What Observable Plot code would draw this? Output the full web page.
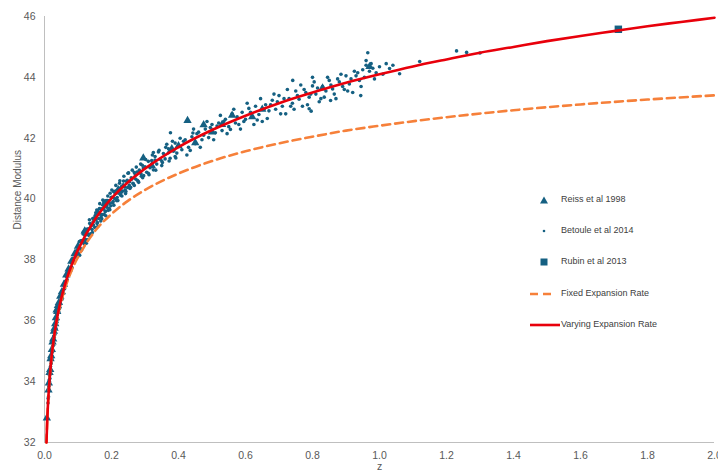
<!DOCTYPE html>
<html><head><meta charset="utf-8">
<script src="https://cdn.jsdelivr.net/npm/d3@7"></script>
<script src="https://cdn.jsdelivr.net/npm/@observablehq/plot@0.6"></script>
<style>
body{margin:0;background:#fff;}
#wrap{position:relative;width:718px;height:470px;overflow:hidden;}
#legend{position:absolute;left:526px;top:190px;font-family:"Liberation Sans Narrow","Liberation Sans",sans-serif;font-size:9px;color:#404040;}
.item{position:absolute;left:0;height:20px;width:190px;}
.item svg{position:absolute;left:0;top:0;}
.item span{position:absolute;left:35px;top:4px;white-space:nowrap;}
</style>
</head><body>
<div id="wrap"><div id="legend"></div></div>
<script>
// ---- data ----
const reiss = [
 [0.007,32.8],[0.012,33.72],[0.013,33.95],[0.015,34.3],[0.017,34.4],[0.018,34.75],[0.020,34.85],
 [0.022,35.05],[0.024,35.3],[0.026,35.4],[0.028,35.65],[0.030,35.75],[0.032,35.9],[0.034,36.1],
 [0.036,36.35],[0.038,36.3],[0.040,36.5],[0.043,36.6],[0.047,36.8],[0.052,36.95],[0.058,37.2],
 [0.065,37.5],[0.072,37.7],[0.080,37.95],[0.090,38.2],[0.10,38.45],[0.12,38.95],
 [0.16,39.55],[0.18,39.85],[0.22,40.3],[0.295,41.35],[0.32,41.1],[0.38,41.65],[0.40,41.75],
 [0.427,42.58],[0.45,41.85],[0.475,42.44],[0.50,42.2],[0.53,42.45],[0.56,42.75],[0.62,42.7],
 [0.65,42.95],[0.83,43.65],[0.97,44.35]
];
const betoule = [
 [0.0105,33.3],[0.011,33.45],[0.012,33.5],[0.013,33.85],[0.0135,33.7],[0.014,34.05],[0.015,34.0],
 [0.015,34.2],[0.016,34.25],[0.016,34.1],[0.017,34.35],[0.018,34.5],[0.018,34.35],[0.019,34.7],
 [0.020,34.6],[0.021,34.85],[0.022,34.95],[0.022,34.75],[0.023,35.05],[0.024,35.15],[0.025,35.0],
 [0.025,35.3],[0.026,35.35],[0.027,35.2],[0.028,35.5],[0.029,35.45],[0.030,35.7],[0.031,35.55],
 [0.032,35.8],[0.033,35.9],[0.034,35.75],[0.035,36.0],[0.036,36.1],[0.037,35.95],[0.038,36.2],
 [0.039,36.05],[0.040,36.35],[0.042,36.3],[0.043,36.5],[0.045,36.4],[0.046,36.6],[0.048,36.55],
 [0.050,36.85],[0.052,36.7],[0.054,37.0],[0.056,36.9],[0.058,37.15],[0.060,37.05],[0.062,37.3],
 [0.064,37.25],[0.066,37.45],[0.068,37.35],[0.070,37.6],[0.072,37.5],[0.074,37.7],[0.077,37.65],
 [0.080,37.9],[0.082,37.75],[0.085,38.05],[0.088,37.95],[0.090,38.2],[0.093,38.1],[0.095,38.3],
 [0.098,38.2],
 [0.100,38.36],[0.102,38.23],[0.104,38.60],[0.106,38.39],[0.108,38.63],[0.110,38.32],[0.112,38.64],
 [0.114,38.58],[0.116,38.92],[0.118,38.53],[0.120,38.82],[0.122,38.68],[0.124,39.01],[0.126,38.83],
 [0.128,38.66],[0.130,39.02],[0.132,38.84],[0.134,39.32],[0.136,39.04],[0.138,38.86],[0.140,39.13],
 [0.142,39.00],[0.144,39.36],[0.146,39.15],[0.148,39.38],[0.150,39.07],[0.152,39.38],[0.154,39.31],
 [0.156,39.64],[0.158,39.23],[0.160,39.51],[0.162,39.36],[0.164,39.69],[0.166,39.50],[0.168,39.28],
 [0.170,39.68],[0.172,39.49],[0.174,39.97],[0.176,39.67],[0.178,39.49],[0.180,39.75],[0.182,39.61],
 [0.184,39.95],[0.186,39.73],[0.188,39.95],[0.190,39.63],[0.192,39.94],[0.194,39.86],[0.196,40.19],
 [0.198,39.78],[0.200,40.06],[0.203,39.88],[0.206,40.25],[0.209,40.02],[0.212,40.26],[0.215,39.95],
 [0.218,40.26],[0.221,40.19],[0.224,40.52],[0.227,40.13],[0.230,40.41],[0.233,40.26],[0.236,40.59],
 [0.239,40.40],[0.242,40.18],[0.245,40.58],[0.248,40.38],[0.251,40.86],[0.254,40.57],[0.257,40.39],
 [0.260,40.65],[0.264,40.52],[0.268,40.87],[0.272,40.66],[0.276,40.89],[0.280,40.58],[0.284,40.90],
 [0.288,40.83],[0.292,41.11],[0.296,40.77],[0.300,41.06],[0.305,40.88],[0.310,41.24],[0.315,41.03],
 [0.320,41.27],[0.325,40.96],[0.330,41.28],[0.335,41.15],[0.340,41.55],[0.345,41.31],[0.350,41.10],
 [0.355,41.50],[0.360,41.32],[0.365,41.80],[0.370,41.52],[0.375,41.34],[0.380,41.64],[0.385,41.57],
 [0.390,41.84],[0.395,41.51],
 [0.121,38.62],[0.127,38.97],[0.133,38.80],[0.139,39.16],[0.145,39.25],[0.151,39.45],[0.157,39.20],
 [0.163,39.55],[0.169,39.41],[0.175,39.80],[0.181,39.58],[0.187,39.86],[0.193,39.70],[0.199,40.05],
 [0.205,39.92],[0.211,40.18],[0.217,40.05],[0.223,40.35],[0.229,40.22],[0.235,40.47],[0.241,40.30],
 [0.247,40.62],[0.253,40.45],[0.259,40.70],[0.265,40.50],[0.271,40.80],[0.277,40.62],[0.283,40.95],
 [0.289,40.75],[0.295,41.02],
 [0.105,38.15],[0.115,38.85],[0.125,38.55],[0.135,39.20],[0.143,38.90],[0.153,39.55],[0.159,39.10],
 [0.165,39.85],[0.171,39.35],[0.177,39.90],[0.183,39.45],[0.189,40.10],[0.195,39.65],[0.201,40.30],
 [0.207,39.80],[0.213,40.45],[0.219,39.95],[0.225,40.60],[0.231,40.10],[0.237,40.75],[0.243,40.25],
 [0.249,40.85],[0.255,40.35],[0.262,40.95],[0.268,40.45],[0.274,41.05],[0.281,40.55],[0.287,41.15],
 [0.293,40.70],[0.302,41.30],[0.312,40.80],[0.322,41.45],[0.332,40.95],[0.342,41.60],[0.352,41.20],
 [0.362,41.70],[0.372,41.25],[0.382,41.90],[0.392,41.35],
 [0.376,42.18],[0.443,42.17],[0.555,42.29],[0.325,41.53],
 [0.41,41.62],[0.42,41.95],[0.43,41.70],[0.44,42.05],[0.45,41.82],[0.46,42.20],[0.47,41.95],
 [0.48,42.30],[0.49,42.02],[0.50,42.45],[0.51,42.18],[0.52,42.50],[0.53,42.25],[0.54,42.62],
 [0.55,42.38],[0.56,42.80],[0.57,42.50],[0.58,42.45],[0.59,42.85],[0.60,42.62],[0.61,42.98],
 [0.62,42.70],[0.63,43.05],[0.64,42.78],[0.65,42.55],[0.66,43.10],[0.67,42.90],[0.68,43.25],
 [0.69,42.95],[0.70,43.40],[0.71,43.05],[0.72,42.80],[0.73,43.30],[0.74,43.15],[0.75,43.55],
 [0.76,43.28],[0.77,43.05],[0.78,43.50],[0.79,43.35],[0.80,43.72],[0.81,43.45],[0.82,43.20],
 [0.83,43.70],[0.84,43.55],[0.85,43.90],[0.86,43.62],[0.87,43.30],[0.88,43.85],[0.89,43.70],
 [0.90,44.05],[0.91,43.78],[0.92,43.50],[0.93,44.05],[0.94,43.90],[0.95,44.25],[0.96,44.40],
 [0.965,44.81],[0.97,44.20],[0.975,44.45],[0.98,44.30],[0.99,44.15],[1.00,44.35],[1.02,44.45],
 [1.03,44.29],[1.06,44.12],[1.12,44.52],[1.23,44.87],[1.26,44.82],[1.30,44.80],
 [0.31,40.85],[0.33,41.40],[0.35,41.25],[0.37,41.65],[0.39,41.40],[0.415,41.90],[0.435,41.60],
 [0.455,42.15],[0.475,42.10],[0.495,42.35],[0.515,42.40],[0.535,42.55],[0.575,42.70],
 [0.595,42.55],[0.615,42.85],[0.635,42.60],[0.655,42.95],[0.675,43.10],[0.695,43.20],[0.715,43.30],
 [0.735,43.05],[0.755,43.40],[0.775,43.60],[0.795,43.45],[0.815,43.65],[0.835,43.35],[0.855,43.75],
 [0.875,43.95],[0.895,43.60],[0.915,43.95],[0.935,44.15],[0.955,44.00],
 [0.405,42.00],[0.425,41.45],[0.445,42.30],[0.465,41.70],[0.485,42.55],[0.505,41.95],[0.525,42.75],
 [0.545,42.15],[0.565,42.95],[0.585,42.30],[0.605,43.15],[0.625,42.45],[0.645,43.30],[0.665,42.65],
 [0.685,43.45],[0.705,42.80],[0.725,43.60],[0.745,42.95],[0.765,43.75],[0.785,43.10],[0.805,43.85],
 [0.825,43.30],[0.845,44.00],[0.865,43.45],[0.885,44.10],[0.905,43.55],[0.925,44.20],[0.945,43.70],
 [0.96,44.55],[0.985,43.95],[1.01,44.10],[1.04,44.40],
 [0.79,42.97],[0.796,42.89],[0.854,43.24],[0.944,43.4],[0.741,43.9],[0.80,44.0]
];
const rubin = [[1.713,45.58]];
const fixedRate = [
 [0.0059,32.0],[0.008,32.7],[0.01,33.18],[0.015,34.06],[0.02,34.68],[0.03,35.55],[0.04,36.17],
 [0.05,36.64],[0.06,37.03],[0.07,37.35],[0.08,37.63],[0.09,37.88],[0.1,38.09],[0.15,38.94],
 [0.2,39.51],[0.25,39.95],[0.3,40.3],[0.4,40.84],[0.5,41.25],[0.6,41.57],[0.7,41.83],[0.8,42.05],
 [0.9,42.25],[1.0,42.41],[1.2,42.69],[1.4,42.92],[1.6,43.11],[1.8,43.27],[2.0,43.41]
];
const varyingRate = [
 [0.0059,32.0],[0.008,32.69],[0.01,33.18],[0.015,34.05],[0.02,34.70],[0.03,35.59],[0.04,36.23],
 [0.05,36.74],[0.06,37.15],[0.07,37.50],[0.08,37.80],[0.09,38.08],[0.1,38.33],[0.15,39.32],
 [0.2,40.02],[0.25,40.56],[0.3,41.00],[0.4,41.71],[0.5,42.27],[0.6,42.74],[0.7,43.15],[0.8,43.50],
 [0.9,43.82],[1.0,44.10],[1.1,44.36],[1.2,44.59],[1.3,44.81],[1.4,45.00],[1.5,45.19],[1.6,45.36],
 [1.7,45.52],[1.8,45.68],[1.9,45.82],[2.0,45.96]
];
const xTicks = [0,0.2,0.4,0.6,0.8,1.0,1.2,1.4,1.6,1.8,2.0];
const yTicks = [32,34,36,38,40,42,44,46];
const legendLabels = ["Reiss et al 1998","Betoule et al 2014","Rubin et al 2013","Fixed Expansion Rate","Varying Expansion Rate"];

const teal = "#156082", orange = "#f6803a", red = "#e8000b", grey = "#595959";
const font = "'Liberation Sans Narrow','Liberation Sans',sans-serif";

const chart = Plot.plot({
  width: 718, height: 470,
  marginLeft: 44, marginRight: 4, marginTop: 16, marginBottom: 28,
  style: {fontFamily: font, fontSize: "10.5px", color: grey, background: "white", overflow: "visible"},
  x: {domain: [0, 2], ticks: xTicks, tickFormat: d3.format(".1f"), label: null, tickSize: 0, tickPadding: 9},
  y: {domain: [32, 46], ticks: yTicks, label: null, tickSize: 0, tickPadding: 9},
  marks: [
    Plot.ruleX([0], {stroke: "#bfbfbf", strokeWidth: 1}),
    Plot.ruleY([32], {stroke: "#bfbfbf", strokeWidth: 1}),
    Plot.dot(betoule, {x: d => d[0], y: d => d[1], r: 1.8, fill: teal, stroke: "none"}),
    Plot.dot(reiss, {x: d => d[0], y: d => d[1], symbol: "triangle", r: 3.1, fill: teal, stroke: "none"}),
    Plot.dot(rubin, {x: d => d[0], y: d => d[1], symbol: "square", r: 4.2, fill: teal, stroke: "none"}),
    Plot.line(fixedRate, {x: d => d[0], y: d => d[1], stroke: orange, strokeWidth: 2.6, strokeDasharray: "8,5", curve: "monotone-x"}),
    Plot.line(varyingRate, {x: d => d[0], y: d => d[1], stroke: red, strokeWidth: 2.6, curve: "monotone-x"}),
    Plot.text(["Distance Modulus"], {frameAnchor: "left", rotate: -90, dx: -27, fill: grey, fontSize: 10}),
    Plot.text(["z"], {frameAnchor: "bottom", dy: 27, fill: grey, fontSize: 10.5})
  ]
});
document.getElementById("wrap").prepend(chart);

// legend
const leg = document.getElementById("legend");
const keys = [
  `<svg width="34" height="20"><path d="M18,6.5 L22,13.5 L14,13.5 Z" fill="${teal}"/></svg>`,
  `<svg width="34" height="20"><circle cx="18" cy="10" r="1.3" fill="${teal}"/></svg>`,
  `<svg width="34" height="20"><rect x="14.5" y="6.5" width="7" height="7" fill="${teal}"/></svg>`,
  `<svg width="34" height="20"><line x1="4" y1="10" x2="27" y2="10" stroke="${orange}" stroke-width="2.6" stroke-dasharray="8,5"/></svg>`,
  `<svg width="34" height="20"><line x1="4" y1="10" x2="34" y2="10" stroke="${red}" stroke-width="2.6"/></svg>`
];
legendLabels.forEach((lab, i) => {
  const div = document.createElement("div");
  div.className = "item";
  div.style.top = (i * 31.2) + "px";
  div.innerHTML = keys[i] + `<span>${lab}</span>`;
  leg.appendChild(div);
});
</script>
</body></html>
